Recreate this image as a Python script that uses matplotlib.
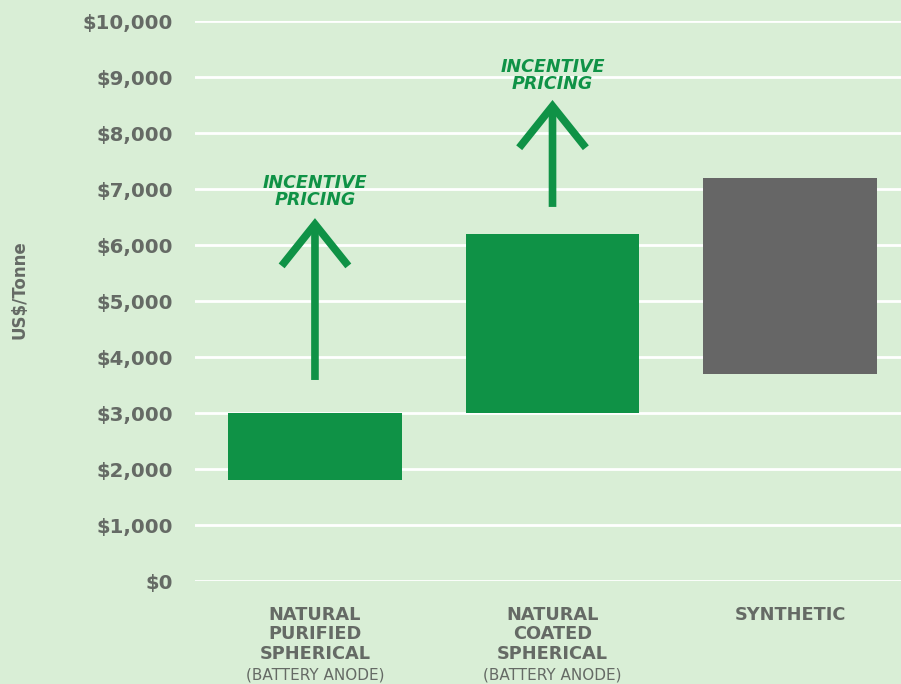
import matplotlib.pyplot as plt
import matplotlib.ticker as mticker

# data
categories = ['NATURAL\nPURIFIED\nSPHERICAL', 'NATURAL\nCOATED\nSPHERICAL', 'SYNTHETIC']
subtitles = ['(BATTERY ANODE)', '(BATTERY ANODE)', '']
price_low = [1800, 3000, 3700]
price_high = [3000, 6200, 7200]
arrow_from = [3590, 6680]
arrow_to = [6480, 8590]
arrow_text_y = [6640, 8710]
yticks = list(range(0, 10001, 1000))

bg = '#d9eed6'
green = '#0f9246'
grey = '#666666'
txt = '#656a65'

plt.rcParams['font.family'] = ['DejaVu Sans']

fig = plt.figure(figsize=(9.01, 6.84), dpi=100, facecolor=bg)
ax = fig.add_axes([195/901, 1-581/684, 706/901, 560/684])
ax.set_facecolor(bg)

colors = [green, green, grey]
x = range(len(categories))
ax.bar(x, [h - l for l, h in zip(price_low, price_high)], bottom=price_low,
       width=0.73, color=colors, zorder=3)

for i in range(len(arrow_from)):
    ax.annotate('', xy=(i, arrow_to[i]), xytext=(i, arrow_from[i]),
                arrowprops=dict(arrowstyle='->,head_length=3.0,head_width=2.4',
                                color=green, lw=5.5, mutation_scale=10,
                                shrinkA=0, shrinkB=0, capstyle='butt',
                                joinstyle='miter'),
                zorder=4)
    ax.text(i, arrow_text_y[i], 'INCENTIVE\nPRICING', ha='center', va='bottom',
            color=green, fontsize=12.6, fontweight='bold', style='italic',
            linespacing=0.95, zorder=5)

ax.set_xlim(-0.505, 2.467)
ax.set_ylim(0, 10000)
ax.set_yticks(yticks)
ax.yaxis.set_major_formatter(mticker.FuncFormatter(lambda v, p: '${:,.0f}'.format(v)))
ax.tick_params(axis='y', length=0, pad=16, labelsize=14.2, labelcolor=txt)
for lab in ax.get_yticklabels():
    lab.set_fontweight('bold')
ax.set_xticks([])
ax.grid(axis='y', color='white', linewidth=2, zorder=0)
for s in ax.spines.values():
    s.set_visible(False)

for i, c in enumerate(categories):
    ax.text(i, -440, c, ha='center', va='top', color=txt, fontsize=12.8,
            fontweight='bold', linespacing=1.13)
    if subtitles[i]:
        ax.text(i, -1680, subtitles[i], ha='center', va='center', color=txt,
                fontsize=11)

fig.text(20/901, 1-290/684, 'US$/Tonne', rotation=90, ha='center', va='center',
         color=txt, fontsize=12, fontweight='bold')

fig.savefig('out.png', dpi=100, facecolor=bg)
